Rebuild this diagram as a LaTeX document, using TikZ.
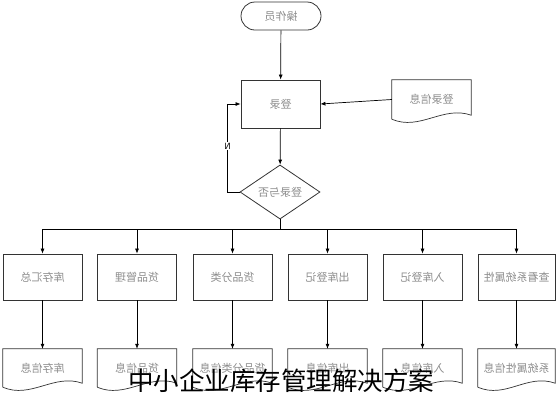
\documentclass[tikz,border=0pt]{standalone}
\usepackage{fontspec}
\usepackage{graphicx}
\newfontfamily\cjk{Noto Sans CJK SC}
\usetikzlibrary{arrows.meta,shapes.geometric}
\newcommand\docline[1]{\draw[line,draw=black!80] (#1.south west) -- (#1.north west) -- (#1.north east) -- ([yshift=4pt]#1.south east)
    .. controls ([xshift=-28pt,yshift=14pt]#1.south east) and ([xshift=28pt,yshift=-12pt]#1.south west) .. (#1.south west);}

\begin{document}
\begin{tikzpicture}[x=1pt,y=-1pt,
    every node/.style={font=\cjk\fontsize{11}{12}\selectfont, text=black!45},
    box/.style={draw=black!80, line width=.8pt, minimum width=79pt, minimum height=46pt, inner sep=0pt},
    doc/.style={minimum width=79pt, minimum height=38pt, inner sep=0pt},
    arr/.style={-{Latex[length=5pt,width=4pt]}, line width=.7pt},
    line/.style={line width=.7pt}]
\useasboundingbox (0,0) rectangle (559,400);

\node[draw=black!80, line width=.8pt, rounded corners=14pt, minimum width=80pt, minimum height=28pt] (op) at (281,16) {\reflectbox{操作员}};
\node[box, minimum height=48pt] (login) at (280.5,104) {\reflectbox{登录}};
\node[doc, minimum height=39pt] (logininfo) at (431.5,99.5) {\reflectbox{登录信息}};
\node[draw=black!80, line width=.8pt, diamond, minimum width=80pt, minimum height=48pt, inner sep=0pt] (check) at (280,192) {\reflectbox{登录与否}};

% modules
\node[box] (sum) at (42.5,277) {\reflectbox{库存汇总}};
\node[box] (goods) at (137,277) {\reflectbox{货品管理}};
\node[box] (sort) at (232.5,277) {\reflectbox{货品分类}};
\node[box] (out) at (327.5,277) {\reflectbox{出库登记}};
\node[box] (in) at (422.5,277) {\reflectbox{入库登记}};
\node[box, minimum width=77pt] (sys) at (516.5,277) {\reflectbox{查看系统属性}};

% records
\node[doc] (suminfo) at (42.5,368) {\reflectbox{库存信息}};
\node[doc] (goodsinfo) at (137,368) {\reflectbox{货品信息}};
\node[doc] (sortinfo) at (232.5,368) {\reflectbox{货品分类信息}};
\node[doc] (outinfo) at (327.5,368) {\reflectbox{出库信息}};
\node[doc] (ininfo) at (422.5,368) {\reflectbox{入库信息}};
\node[doc, minimum width=77pt] (sysinfo) at (516.5,368) {\reflectbox{系统属性信息}};

\docline{logininfo}
\docline{suminfo}
\docline{goodsinfo}
\docline{sortinfo}
\docline{outinfo}
\docline{ininfo}
\docline{sysinfo}

\coordinate (bus) at (280,229);

\draw[arr] (op) -- (login);
\draw[arr] (logininfo.west) -- (login.east);
\draw[arr] (login) -- (check);
\draw[arr] (check.west) -- ++(-12,0) |- node[pos=.26, fill=white, inner sep=1pt, text=black, font=\sffamily\fontsize{9}{10}\selectfont] {\reflectbox{N}} (login.west);
\draw[line] (check.south) -- (bus);
\draw[line] (bus -| sum) -- (bus -| sys);
\draw[arr] (bus -| sum) -- (sum);
\draw[arr] (bus -| goods) -- (goods);
\draw[arr] (bus -| sort) -- (sort);
\draw[arr] (bus -| out) -- (out);
\draw[arr] (bus -| in) -- (in);
\draw[arr] (bus -| sys) -- (sys);
\draw[arr] (sum) -- (suminfo);
\draw[arr] (goods) -- (goodsinfo);
\draw[arr] (sort) -- (sortinfo);
\draw[arr] (out) -- (outinfo);
\draw[arr] (in) -- (ininfo);
\draw[arr] (sys) -- (sysinfo);

\node[font=\cjk\fontsize{25.5}{26}\selectfont, text=black] (mark) at (281,381) {中小企业库存管理解决方案};
\end{tikzpicture}
\end{document}
